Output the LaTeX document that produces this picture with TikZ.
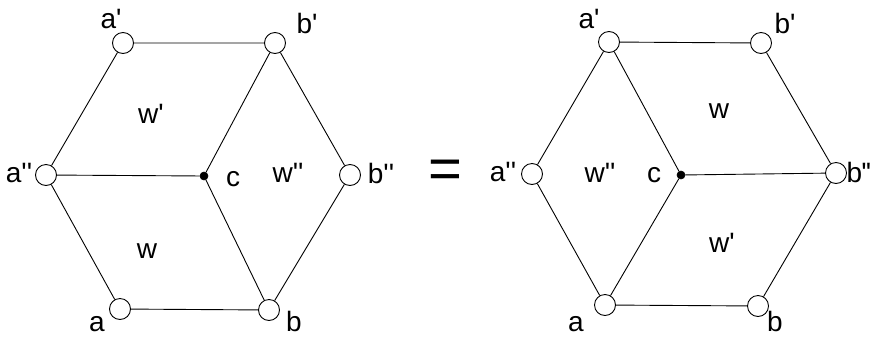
\documentclass[tikz,border=0pt]{standalone}
\usepackage{fontspec}
\newfontfamily\lab{Liberation Sans}
\begin{document}
\begin{tikzpicture}[x=1pt,y=-1pt,
  vtx/.style={circle,draw,fill=white,line width=0.9pt,minimum size=21pt,inner sep=0pt},
  ctr/.style={circle,draw,fill=black,line width=0.6pt,minimum size=8pt,inner sep=0pt},
  edge/.style={line width=0.9pt},
  lbl/.style={font=\lab\fontsize{28}{28}\selectfont,inner sep=0pt,anchor=base,text depth=0pt},
  reg/.style={font=\lab\fontsize{28}{28}\selectfont,inner sep=0pt,anchor=base,text depth=0pt}]
\useasboundingbox (0,0) rectangle (872,338);
% left hexagon
\node[vtx] (La1) at (123,43) {};
\node[vtx] (Lb1) at (275,43) {};
\node[vtx] (La2) at (46,175) {};
\node[vtx] (Lb2) at (350,175) {};
\node[vtx] (La)  at (120,309) {};
\node[vtx] (Lb)  at (269,310) {};
\node[ctr] (Lc)  at (204,176) {};
\draw[edge] (La1) -- (Lb1) (Lb1) -- (Lb2) (Lb2) -- (Lb) (Lb) -- (La) (La) -- (La2) (La2) -- (La1);
\draw[edge] (La2) -- (Lc) (Lb1) -- (Lc) (Lb) -- (Lc);
\node[lbl] (tLa1) at (111,28) {a'};
\node[lbl] (tLb1) at (307,33) {b'};
\node[lbl] (tLa2) at (19,182) {a''};
\node[lbl] (tLb2) at (381,183) {b''};
\node[lbl] (tLc)  at (233,186) {c};
\node[lbl] (tLa)  at (97,331) {a};
\node[lbl] (tLb)  at (294,331) {b};
\node[reg] (wL1) at (151,123) {w'};
\node[reg] (wL2) at (288,182) {w''};
\node[reg] (wL0) at (147,258) {w};
% equals
\node[font=\lab\fontsize{58}{58}\selectfont,inner sep=0pt] (eq) at (445,174) {=};
% right hexagon
\node[vtx] (Ra1) at (609,42) {};
\node[vtx] (Rb1) at (761,43) {};
\node[vtx] (Ra2) at (532,174) {};
\node[vtx] (Rb2) at (836,173) {};
\node[vtx] (Ra)  at (605,305) {};
\node[vtx] (Rb)  at (758,306) {};
\node[ctr] (Rc)  at (681,175) {};
\draw[edge] (Ra1) -- (Rb1) (Rb1) -- (Rb2) (Rb2) -- (Rb) (Rb) -- (Ra) (Ra) -- (Ra2) (Ra2) -- (Ra1);
\draw[edge] (Rb2) -- (Rc) (Ra1) -- (Rc) (Ra) -- (Rc);
\node[lbl] (tRa1) at (589,28) {a'};
\node[lbl] (tRb1) at (785,33) {b'};
\node[lbl] (tRa2) at (503,181) {a''};
\node[lbl,anchor=base west] (tRb2) at (846.5,182) {b\kern-1pt'\kern-0.8pt'};
\node[lbl] (tRc)  at (654,182) {c};
\node[lbl] (tRa)  at (576,331) {a};
\node[lbl] (tRb)  at (775,331) {b};
\node[reg] (wR0) at (719,118) {w};
\node[reg] (wR2) at (600,182) {w''};
\node[reg] (wR1) at (722,252) {w'};
\end{tikzpicture}
\end{document}
